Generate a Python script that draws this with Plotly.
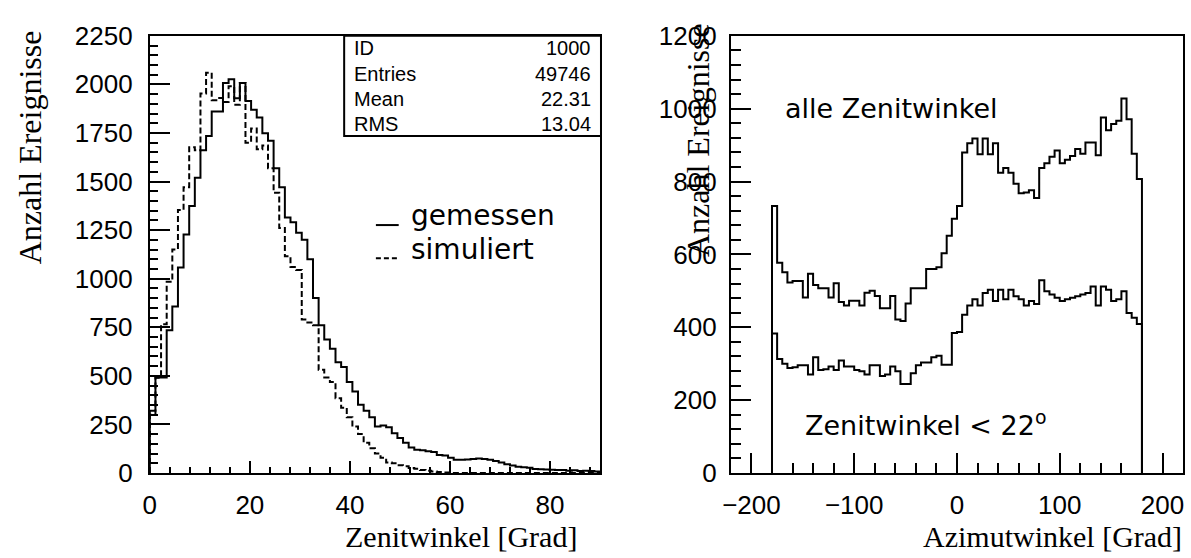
import plotly.graph_objects as go

# ---- zenith angle distribution, 0..90 deg, 80 bins ----
ZEN_LO, ZEN_HI = 0.0, 90.0
gemessen = [320, 492, 492, 735, 857, 1057, 1227, 1374, 1520, 1661,
            1734, 1861, 1861, 2007, 2026, 1929, 2007, 1914, 1870, 1830,
            1749, 1710, 1568, 1471, 1315, 1290, 1237, 1200, 1100, 900,
            760, 687, 640, 570, 546, 468, 419, 351, 320, 287,
            239, 245, 235, 205, 180, 156, 131, 120, 117, 112,
            108, 93, 90, 78, 68, 68, 70, 72, 75, 72,
            68, 62, 54, 45, 39, 32, 29, 27, 20, 19,
            18, 16, 15, 15, 12, 14, 10, 12, 10, 8]
simuliert = [300, 490, 765, 984, 1150, 1354, 1471, 1676, 1661, 1953,
             2060, 1919, 1930, 1910, 1990, 1895, 2007, 1700, 1773, 1666,
             1685, 1568, 1442, 1261, 1115, 1060, 1045, 790, 775, 760,
             531, 492, 468, 385, 336, 287, 239, 200, 156, 127,
             100, 78, 54, 50, 40, 35, 25, 22, 15, 12,
             8, 5, 3, 0, 0, 0, 0, 0, 0, 0,
             0, 0, 0, 0, 0, 0, 0, 0, 0, 0,
             0, 0, 0, 0, 0, 0, 0, 0, 0, 0]

# ---- azimuth distributions, -180..180 deg, 72 bins ----
AZI_LO, AZI_HI = -180.0, 180.0
alle = [733, 577, 551, 523, 527, 527, 482, 547, 516, 507,
        507, 482, 521, 469, 460, 473, 473, 460, 495, 500,
        486, 452, 452, 486, 421, 417, 465, 507, 507, 507,
        560, 560, 565, 603, 651, 698, 733, 880, 905, 918,
        875, 918, 875, 905, 824, 837, 824, 794, 768, 770,
        776, 755, 837, 850, 868, 885, 850, 860, 870, 889,
        876, 907, 907, 872, 976, 941, 958, 967, 1028, 971,
        876, 807]
unter22 = [383, 313, 300, 288, 290, 296, 296, 270, 318, 283,
           285, 292, 283, 309, 292, 292, 283, 279, 270, 296,
           296, 266, 270, 292, 279, 244, 244, 274, 296, 303,
           303, 318, 322, 297, 297, 384, 387, 434, 460, 477,
           460, 494, 503, 472, 503, 477, 503, 485, 477, 460,
           472, 464, 529, 499, 490, 481, 472, 477, 481, 485,
           490, 494, 512, 460, 512, 503, 472, 477, 499, 439,
           426, 409]

stat_labels = ["ID", "Entries", "Mean", "RMS"]
stat_values = ["1000", "49746", "22.31", "13.04"]

W, H = 1191, 558
SANS = "Liberation Sans"
TEXT = "DejaVu Sans"
SERIF = "Liberation Serif"


def step_xy(lo, hi, counts):
    """Outline of a histogram, closed down to zero at both ends."""
    n = len(counts)
    w = (hi - lo) / n
    edges = [lo + i * w for i in range(n + 1)]
    xs = [edges[0]] + edges[:-1] + [edges[-1], edges[-1]]
    ys = [0] + list(counts) + [counts[-1], 0]
    return xs, ys


def px(x):
    return x / W


def py(y):
    return 1 - y / H


fig = go.Figure()

x, y = step_xy(ZEN_LO, ZEN_HI, gemessen)
fig.add_trace(go.Scatter(x=x, y=y, mode="lines", line_shape="hv",
                         line=dict(color="black", width=2),
                         xaxis="x", yaxis="y", hoverinfo="skip"))
x, y = step_xy(ZEN_LO, ZEN_HI, simuliert)
fig.add_trace(go.Scatter(x=x, y=y, mode="lines", line_shape="hv",
                         line=dict(color="black", width=2, dash="6px,3px"),
                         xaxis="x", yaxis="y", hoverinfo="skip"))
x, y = step_xy(AZI_LO, AZI_HI, alle)
fig.add_trace(go.Scatter(x=x, y=y, mode="lines", line_shape="hv",
                         line=dict(color="black", width=2),
                         xaxis="x2", yaxis="y2", hoverinfo="skip"))
x, y = step_xy(AZI_LO, AZI_HI, unter22)
fig.add_trace(go.Scatter(x=x, y=y, mode="lines", line_shape="hv",
                         line=dict(color="black", width=2),
                         xaxis="x2", yaxis="y2", hoverinfo="skip"))

tickfont = dict(family=SANS, size=26, color="black")
common = dict(showline=True, linecolor="black", linewidth=2, mirror=True,
              ticks="inside", tickcolor="black", tickwidth=1.5,
              showgrid=False, zeroline=False, tickfont=tickfont,
              fixedrange=True)
ydom = [py(484), py(22)]

fig.update_layout(
    width=W, height=H,
    margin=dict(l=0, r=0, t=0, b=0),
    paper_bgcolor="white", plot_bgcolor="white",
    showlegend=False,
    xaxis=dict(common, domain=[px(142), px(596)], range=[0, 90],
               tick0=0, dtick=20, ticklen=12, anchor="y",
               ticklabelstandoff=8,
               minor=dict(ticks="inside", tick0=0, dtick=4, ticklen=6,
                          tickcolor="black", tickwidth=1.5, showgrid=False)),
    yaxis=dict(common, domain=ydom, range=[0, 2250],
               tick0=0, dtick=250, ticklen=20, anchor="x",
               ticklabelstandoff=10,
               minor=dict(ticks="inside", tick0=0, dtick=50, ticklen=8,
                          tickcolor="black", tickwidth=1.5, showgrid=False)),
    xaxis2=dict(common, domain=[px(728), px(1184)], range=[-220, 220],
                tick0=0, dtick=100, ticklen=20, anchor="y2",
                ticklabelstandoff=8,
                minor=dict(ticks="inside", tick0=0, dtick=20, ticklen=10,
                           tickcolor="black", tickwidth=1.5, showgrid=False)),
    yaxis2=dict(common, domain=ydom, range=[0, 1200],
                tick0=0, dtick=200, ticklen=20, anchor="x2",
                ticklabelstandoff=7,
                minor=dict(ticks="inside", tick0=0, dtick=40, ticklen=10,
                           tickcolor="black", tickwidth=1.5, showgrid=False)),
)

ann = []
shapes = []


def label(text, x, y, size, family=TEXT, xanchor="center", yanchor="middle", angle=0):
    ann.append(dict(text=text, x=px(x), y=py(y), xref="paper", yref="paper",
                    xanchor=xanchor, yanchor=yanchor, textangle=angle,
                    showarrow=False, borderpad=0,
                    font=dict(family=family, size=size, color="black")))


# axis titles
label("Anzahl Ereignisse", 22, 140, 32, family=SERIF, angle=-90)
label("Anzahl Ereignisse", 695, 132, 32, family=SERIF, angle=-90)
label("Zenitwinkel [Grad]", 574, 551, 30, family=SERIF, xanchor="right")
label("Azimutwinkel [Grad]", 1184, 551, 30, family=SERIF, xanchor="right")

# statistics box
shapes.append(dict(type="rect", xref="paper", yref="paper",
                   x0=px(338), x1=px(597), y0=py(128), y1=py(22),
                   line=dict(color="black", width=2), fillcolor="white", layer="above"))
rows_y = [35, 62, 89, 115]
for lab, val, ry in zip(stat_labels, stat_values, rows_y):
    label(lab, 347, ry, 20, family=SANS, xanchor="left")
    label(val, 588, ry, 20, family=SANS, xanchor="right")

# line-style key
shapes.append(dict(type="line", xref="paper", yref="paper",
                   x0=px(370), x1=px(393), y0=py(222), y1=py(222),
                   line=dict(color="black", width=2)))
shapes.append(dict(type="line", xref="paper", yref="paper",
                   x0=px(370), x1=px(393), y0=py(257), y1=py(257),
                   line=dict(color="black", width=2, dash="5px,3px")))
label("gemessen", 404, 212, 28, xanchor="left")
label("simuliert", 404, 248, 28, xanchor="left")

# labels inside the azimuth panel
label("alle Zenitwinkel", 782, 99, 27, xanchor="left")
label("Zenitwinkel < 22<sup>o</sup>", 802, 432, 27, xanchor="left")

fig.update_layout(annotations=ann, shapes=shapes)
fig.write_html("out.html")
